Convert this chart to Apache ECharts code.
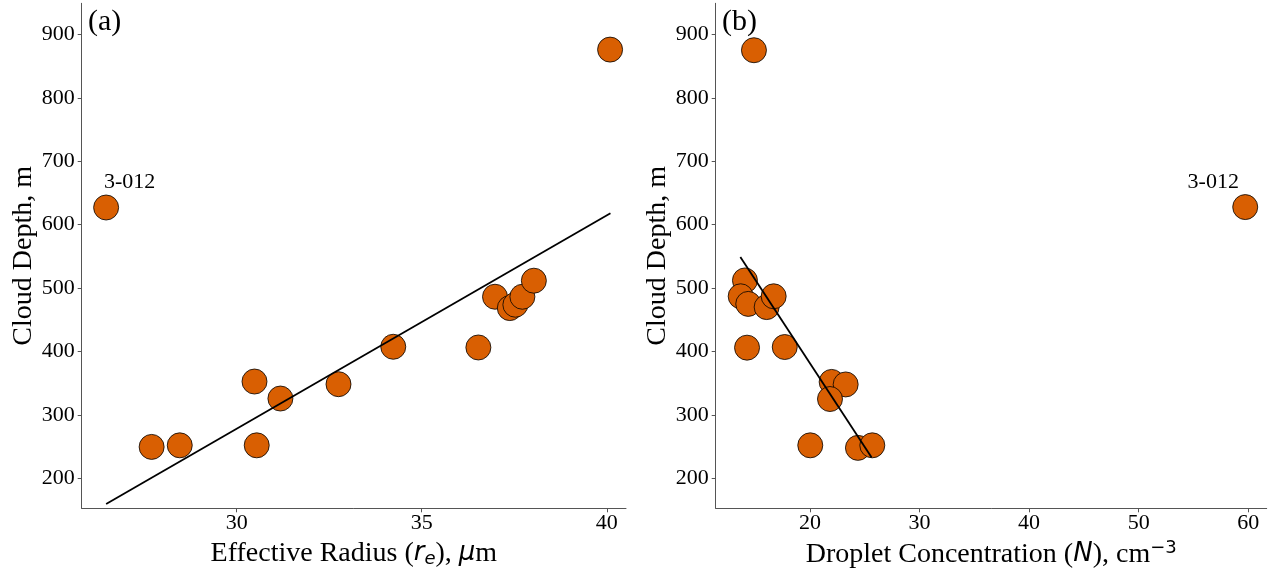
<!DOCTYPE html>
<html><head><meta charset="utf-8">
<script src="https://cdn.jsdelivr.net/npm/echarts@6/dist/echarts.min.js"></script>
<style>html,body{margin:0;padding:0;background:#fff}#c{width:1273px;height:578px}</style>
</head><body><div id="c"></div>
<script>
// Panel (a): effective radius vs cloud depth
const radiusA = [26.47, 27.70, 28.46, 30.48, 30.54, 31.18, 32.75, 34.23, 36.53, 36.98, 37.38, 37.53, 37.72, 38.03, 40.09];
const depthA  = [627, 249.5, 252, 352.6, 252, 325.8, 348.4, 407.4, 406.3, 486.3, 468.4, 473.7, 486.3, 511.6, 876];
// Panel (b): droplet concentration vs cloud depth
const concB  = [14.07, 13.68, 14.37, 16.05, 16.69, 14.26, 17.70, 21.98, 23.26, 21.83, 20.03, 24.38, 25.69, 14.89, 59.72];
const depthB = [512, 487, 475, 470, 487, 406, 407, 352, 348, 325, 252, 248, 252, 875, 627.7];
// Fit lines (end points)
const fitAx = [26.47, 40.10], fitAy = [159.5, 618];
const fitBx = [13.65, 25.63], fitBy = [549, 232.8];
// Ticks
const yTicks = [200, 300, 400, 500, 600, 700, 800, 900];
const xTicksA = [30, 35, 40];
const xTicksB = [20, 30, 40, 50, 60];
const outlierLabel = '3-012';
const outlierIdxA = 0, outlierIdxB = 14;

const SERIF = "'Liberation Serif','Times New Roman',serif";
const SANS = "'DejaVu Sans',sans-serif";
const AX = '#555';

function pts(xs, ys, idx, off) {
  return xs.map((x, i) => {
    const d = {value: [x, ys[i]]};
    if (i === idx) d.label = {show: true, formatter: outlierLabel, position: 'inside', offset: off,
      fontFamily: SERIF, fontSize: 22, color: '#000', opacity: 1};
    return d;
  });
}
function xAx(gi, min, max, ticks, name, rich) {
  return {gridIndex: gi, type: 'value', min, max, splitLine: {show: false},
    axisLine: {show: true, lineStyle: {color: AX, width: 1}},
    axisTick: {show: true, length: 4, customValues: ticks, lineStyle: {color: AX}},
    axisLabel: {customValues: ticks, margin: 4, fontFamily: SERIF, fontSize: 22, color: '#000'},
    name, nameLocation: 'middle', nameGap: 29,
    nameTextStyle: {fontFamily: SERIF, fontSize: 28, color: '#000', rich}};
}
function yAx(gi) {
  return {gridIndex: gi, type: 'value', min: 152.7, max: 949, splitLine: {show: false},
    axisLine: {show: true, lineStyle: {color: AX, width: 1}},
    axisTick: {show: true, length: 4, customValues: yTicks, lineStyle: {color: AX}},
    axisLabel: {customValues: yTicks, margin: 7, fontFamily: SERIF, fontSize: 22, color: '#000'},
    name: 'Cloud Depth, m', nameLocation: 'middle', nameGap: 44, nameRotate: 90,
    nameTextStyle: {fontFamily: SERIF, fontSize: 28, color: '#000'}};
}
const richBase = {
  it: {fontFamily: SANS, fontStyle: 'italic', fontSize: 26, color: '#000'},
  sub: {fontFamily: SANS, fontStyle: 'italic', fontSize: 18, color: '#000', padding: [13, 0, 0, 0]},
  sup: {fontFamily: SANS, fontSize: 18, color: '#000', padding: [0, 0, 13, 0]},
  s: {fontFamily: SERIF, fontSize: 28, color: '#000'}
};
const scatterStyle = {color: '#D95F02', borderColor: '#000', borderWidth: 0.8, opacity: 1};
const chart = echarts.init(document.getElementById('c'), null, {renderer: 'canvas'});
chart.setOption({
  animation: false,
  backgroundColor: '#fff',
  grid: [
    {left: 81.7, top: 3.3, width: 544.3, height: 505},
    {left: 715.7, top: 3.3, width: 551, height: 505}
  ],
  xAxis: [
    xAx(0, 25.81, 40.52, xTicksA, '{s|Effective Radius (}{it|r}{sub|e}{s|), }{it|μ}{s|m}', richBase),
    xAx(1, 11.4, 61.68, xTicksB, '{s|Droplet Concentration (}{it|N}{s|), cm}{sup|−3}', richBase)
  ],
  yAxis: [yAx(0), yAx(1)],
  graphic: [
    {type: 'text', left: 88, top: 7, style: {text: '(a)', font: '30px ' + SERIF, fill: '#000'}},
    {type: 'text', left: 722, top: 7, style: {text: '(b)', font: '30px ' + SERIF, fill: '#000'}}
  ],
  series: [
    {type: 'scatter', xAxisIndex: 0, yAxisIndex: 0, symbolSize: 25, itemStyle: scatterStyle, z: 2,
     data: pts(radiusA, depthA, outlierIdxA, [23.5, -25])},
    {type: 'line', xAxisIndex: 0, yAxisIndex: 0, symbol: 'none', z: 3,
     lineStyle: {color: '#000', width: 1.8}, data: fitAx.map((x, i) => [x, fitAy[i]])},
    {type: 'scatter', xAxisIndex: 1, yAxisIndex: 1, symbolSize: 25, itemStyle: scatterStyle, z: 2,
     data: pts(concB, depthB, outlierIdxB, [-32, -24.5])},
    {type: 'line', xAxisIndex: 1, yAxisIndex: 1, symbol: 'none', z: 3,
     lineStyle: {color: '#000', width: 1.8}, data: fitBx.map((x, i) => [x, fitBy[i]])}
  ]
});
</script></body></html>
